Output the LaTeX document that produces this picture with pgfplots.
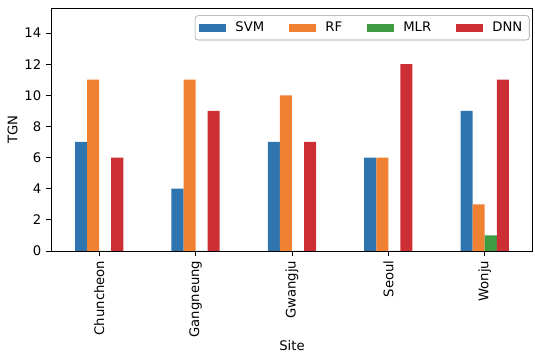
\documentclass[border=0pt]{standalone}
\usepackage{fontspec}
\setmainfont{DejaVu Sans}
\usepackage{pgfplots}
\pgfplotsset{compat=1.18}
\definecolor{tabblue}{HTML}{2E75B0}
\definecolor{taborange}{HTML}{F08032}
\definecolor{tabgreen}{HTML}{3D9C42}
\definecolor{tabred}{HTML}{CC3035}
\begin{document}
\begin{tikzpicture}
\begin{axis}[
  scale only axis,
  width=346.8pt, height=174.8pt,
  ybar,
  bar width=0.125,
  xmin=-0.5, xmax=4.5,
  ymin=0, ymax=15.6,
  xtick={0,1,2,3,4},
  xticklabels={Chuncheon,Gangneung,Gwangju,Seoul,Wonju},
  x tick label style={rotate=90, anchor=east},
  ytick={0,2,...,14},
  tick align=outside,
  major tick length=3.5pt,
  tick style={black, line width=0.6pt},
  xtick pos=bottom, ytick pos=left,
  axis line style={line width=0.6pt},
  /pgf/number format/assume math mode=true,
  tick label style={font=\fontsize{9.5}{11}\selectfont},
  label style={font=\fontsize{9.5}{11}\selectfont},
  xlabel={Site}, ylabel={TGN},
  xlabel style={yshift=5pt},
  ylabel style={yshift=-2pt},
  every axis plot post/.append style={
    legend image code/.code={\fill[##1, sharp corners] (0pt,-3pt) rectangle (19pt,3pt);}},
  legend columns=4,
  legend style={at={(0.993,0.97)}, anchor=north east, draw=gray!80,
    rounded corners=2pt, font=\fontsize{9.5}{11}\selectfont,
    /tikz/every odd column/.append style={column sep=5pt},
    /tikz/every even column/.append style={column sep=16pt},
    inner xsep=3pt, inner ysep=2.5pt},
  legend cell align=left,
]
\addplot[fill=tabblue, draw=none, bar shift=-0.1875] coordinates {(0,7) (1,4) (2,7) (3,6) (4,9)};
\addplot[fill=taborange, draw=none, bar shift=-0.0625] coordinates {(0,11) (1,11) (2,10) (3,6) (4,3)};
\addplot[fill=tabgreen, draw=none, bar shift=0.0625] coordinates {(0,0) (1,0) (2,0) (3,0) (4,1)};
\addplot[fill=tabred, draw=none, bar shift=0.1875] coordinates {(0,6) (1,9) (2,7) (3,12) (4,11)};
\legend{SVM,RF,MLR,DNN}
\end{axis}
\pgfresetboundingbox
\useasboundingbox (-36.7pt,-74.8pt) rectangle (348.3pt,180.6pt);
\end{tikzpicture}
\end{document}
